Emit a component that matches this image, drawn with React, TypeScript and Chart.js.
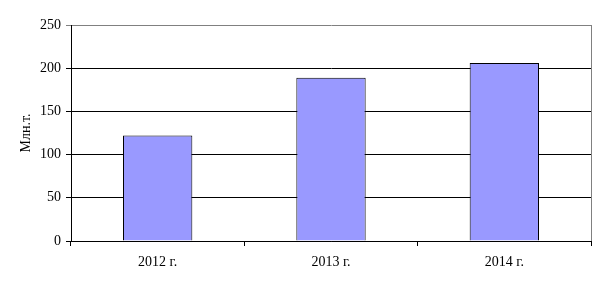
import React, { useEffect, useRef } from "react";
import { Chart, registerables } from "chart.js";

Chart.register(...registerables);

const categories = ["2012 г.", "2013 г.", "2014 г."];
const values = [122, 189, 206];
const yTitle = "Млн.т.";

const FONT = "'Liberation Serif', 'Times New Roman', serif";

export default function App() {
  const ref = useRef<HTMLCanvasElement | null>(null);
  useEffect(() => {
    document.body.style.margin = "0";
    const ctx = ref.current!;
    const borderPlugin = {
      id: "rightBorder",
      afterDraw(chart: any) {
        const { ctx, chartArea } = chart;
        ctx.save();
        ctx.strokeStyle = "#808080";
        ctx.lineWidth = 1;
        ctx.beginPath();
        ctx.moveTo(Math.round(chartArea.right) + 0.5, chartArea.top);
        ctx.lineTo(Math.round(chartArea.right) + 0.5, chartArea.bottom);
        ctx.stroke();
        ctx.restore();
      },
    };
    const chart = new Chart(ctx, {
      type: "bar",
      data: {
        labels: categories,
        datasets: [
          {
            data: values,
            backgroundColor: "#9999FF",
            borderColor: "#000000",
            borderWidth: 1,
            barPercentage: 0.4,
            categoryPercentage: 1,
          },
        ],
      },
      options: {
        responsive: false,
        animation: false,
        layout: { padding: { top: 25, right: 13, left: 0, bottom: 0 } },
        plugins: { legend: { display: false }, tooltip: { enabled: false } },
        scales: {
          x: {
            grid: {
              drawOnChartArea: false,
              drawTicks: true,
              tickLength: 5,
              color: "#000000",
              offset: true,
            },
            border: { color: "#000000", width: 1 },
            ticks: {
              color: "#000000",
              font: { family: FONT, size: 14 },
              padding: 8,
              maxRotation: 0,
            },
            afterFit(scale: any) {
              scale.height = 47;
            },
          },
          y: {
            min: 0,
            max: 250,
            ticks: {
              stepSize: 50,
              color: "#000000",
              font: { family: FONT, size: 14 },
              padding: 5,
            },
            grid: {
              color: (c: any) => (c.tick && c.tick.value === 250 ? "#808080" : "#000000"),
              tickLength: 5,
              drawTicks: true,
            },
            border: { color: "#000000", width: 1 },
            title: {
              display: true,
              text: yTitle,
              color: "#000000",
              font: { family: FONT, size: 14 },
              padding: { top: 18, bottom: 0 },
            },
            afterFit(scale: any) {
              scale.width = 71;
            },
          },
        },
      },
      plugins: [borderPlugin],
    });
    return () => chart.destroy();
  }, []);
  return <canvas ref={ref} width={604} height={288} style={{ display: "block" }} />;
}
